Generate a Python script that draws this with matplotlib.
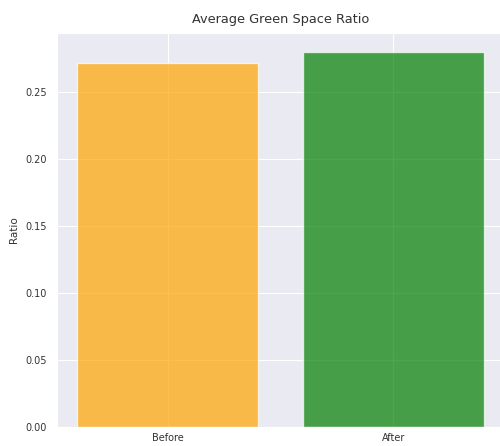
import matplotlib
matplotlib.use("Agg")
import matplotlib.pyplot as plt
import seaborn as sns

periods = ['Before', 'After']
green_ratio = [0.2715, 0.2800]
bar_colors = ['orange', 'green']

sns.set_style('darkgrid')

fig = plt.figure(figsize=(5.0, 4.46), dpi=100)
ax = fig.add_axes([57 / 500, 19 / 446, 447 / 500, 394 / 446])

ax.bar(periods, green_ratio, color=bar_colors, alpha=0.7)
ax.set_title('Average Green Space Ratio', fontsize=9.3, color='#333333', pad=7)
ax.set_ylabel('Ratio', fontsize=7.5, color='#333333', labelpad=4)
ax.tick_params(axis='y', labelsize=7, colors='#333333', pad=4)
ax.tick_params(axis='x', labelsize=7, colors='#333333', pad=1)

fig.savefig('out.png', dpi=100)
